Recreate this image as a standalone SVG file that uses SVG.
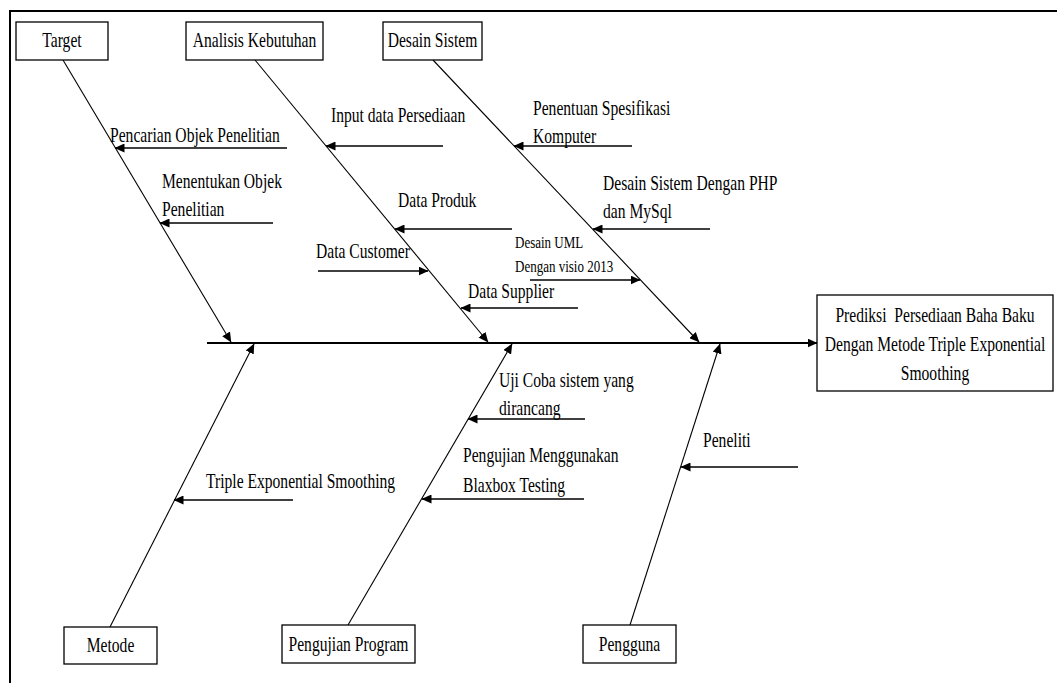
<svg xmlns="http://www.w3.org/2000/svg" width="1057" height="683" viewBox="0 0 1057 683">
<defs>
<marker id="ah" markerUnits="userSpaceOnUse" markerWidth="10" markerHeight="9" refX="9.5" refY="4.5" orient="auto">
<path d="M0,0 L10,4.5 L0,9 Z" fill="#000"/>
</marker>
<style>
.box{fill:#fff;stroke:#000;stroke-width:1.3}
.bone{stroke:#000;stroke-width:1.1;fill:none;marker-end:url(#ah)}
.sub{stroke:#000;stroke-width:1.5;fill:none;marker-end:url(#ah)}
.spine{stroke:#000;stroke-width:2;fill:none;marker-end:url(#ah)}
.frame{stroke:#000;stroke-width:2;fill:none}
text{font-family:"Liberation Serif","Times New Roman",serif;font-size:15.6px;fill:#000}
.sm{font-size:13px}
.c{text-anchor:middle}
</style>
</defs>
<rect width="1057" height="683" fill="#fff"/>
<path class="frame" d="M10,690 L10,11 L1060,11"/>

<g id="connectors">
<line class="spine" x1="207" y1="343" x2="817" y2="343"/>
<line class="bone" x1="63" y1="60" x2="231" y2="342"/>
<line class="bone" x1="255" y1="60" x2="488" y2="342"/>
<line class="bone" x1="433" y1="60" x2="699" y2="342"/>
<line class="bone" x1="110" y1="627" x2="254" y2="344"/>
<line class="bone" x1="348" y1="625" x2="512" y2="344"/>
<line class="bone" x1="630" y1="625" x2="720" y2="344"/>
<line class="sub" x1="287" y1="148" x2="115" y2="148"/>
<line class="sub" x1="273" y1="223" x2="160" y2="223"/>
<line class="sub" x1="443" y1="146" x2="326" y2="146"/>
<line class="sub" x1="512" y1="229" x2="395" y2="229"/>
<line class="sub" x1="318" y1="271" x2="428" y2="271"/>
<line class="sub" x1="578" y1="308" x2="461" y2="308"/>
<line class="sub" x1="632" y1="146" x2="514" y2="146"/>
<line class="sub" x1="710" y1="229" x2="593" y2="229"/>
<line class="sub" x1="530" y1="280" x2="640" y2="280"/>
<line class="sub" x1="293" y1="500" x2="174" y2="500"/>
<line class="sub" x1="585" y1="419" x2="468" y2="419"/>
<line class="sub" x1="584" y1="499" x2="422" y2="499"/>
<line class="sub" x1="798" y1="467" x2="681" y2="467"/>
</g>

<g id="node-target">
<rect class="box" x="16" y="22" width="92" height="38"/>
<text class="c" transform="translate(62,47) scale(1,1.4)">Target</text>
</g>
<g id="node-analisis">
<rect class="box" x="186" y="22" width="137" height="38"/>
<text class="c" transform="translate(254.5,47) scale(1,1.4)">Analisis Kebutuhan</text>
</g>
<g id="node-desain">
<rect class="box" x="383" y="22" width="99" height="38"/>
<text class="c" transform="translate(432.5,47) scale(1,1.4)">Desain Sistem</text>
</g>
<g id="node-metode">
<rect class="box" x="64" y="627" width="93" height="37"/>
<text class="c" transform="translate(110.5,652) scale(1,1.4)">Metode</text>
</g>
<g id="node-pengujian">
<rect class="box" x="282" y="625" width="133" height="38"/>
<text class="c" transform="translate(348.5,651) scale(1,1.4)">Pengujian Program</text>
</g>
<g id="node-pengguna">
<rect class="box" x="583" y="625" width="93" height="38"/>
<text class="c" transform="translate(629.5,651) scale(1,1.4)">Pengguna</text>
</g>
<g id="node-result">
<rect class="box" x="817" y="295" width="236" height="96"/>
<text class="c" transform="translate(935,322) scale(1,1.4)" xml:space="preserve">Prediksi  Persediaan Baha Baku</text>
<text class="c" transform="translate(935,351) scale(1,1.4)">Dengan Metode Triple Exponential</text>
<text class="c" transform="translate(935,380) scale(1,1.4)">Smoothing</text>
</g>

<g id="labels">
<text transform="translate(110,142) scale(1,1.4)">Pencarian Objek Penelitian</text>
<text transform="translate(162,188) scale(1,1.4)">Menentukan Objek</text>
<text transform="translate(162,216) scale(1,1.4)">Penelitian</text>
<text transform="translate(331,122) scale(1,1.4)">Input data Persediaan</text>
<text transform="translate(398,207) scale(1,1.4)">Data Produk</text>
<text transform="translate(316,258) scale(1,1.4)">Data Customer</text>
<text transform="translate(468,298) scale(1,1.4)">Data Supplier</text>
<text transform="translate(533,115) scale(1,1.4)">Penentuan Spesifikasi</text>
<text transform="translate(533,143) scale(1,1.4)">Komputer</text>
<text transform="translate(603,190) scale(1,1.4)">Desain Sistem Dengan PHP</text>
<text transform="translate(603,218) scale(1,1.4)">dan MySql</text>
<text class="sm" transform="translate(515,248) scale(1,1.35)">Desain UML</text>
<text class="sm" transform="translate(515,272) scale(1,1.35)">Dengan visio 2013</text>
<text transform="translate(206,488) scale(1,1.4)">Triple Exponential Smoothing</text>
<text transform="translate(499,387) scale(1,1.4)">Uji Coba sistem yang</text>
<text transform="translate(499,415) scale(1,1.4)">dirancang</text>
<text transform="translate(463,462) scale(1,1.4)">Pengujian Menggunakan</text>
<text transform="translate(463,492) scale(1,1.4)">Blaxbox Testing</text>
<text transform="translate(703,447) scale(1,1.4)">Peneliti</text>
</g>
</svg>
